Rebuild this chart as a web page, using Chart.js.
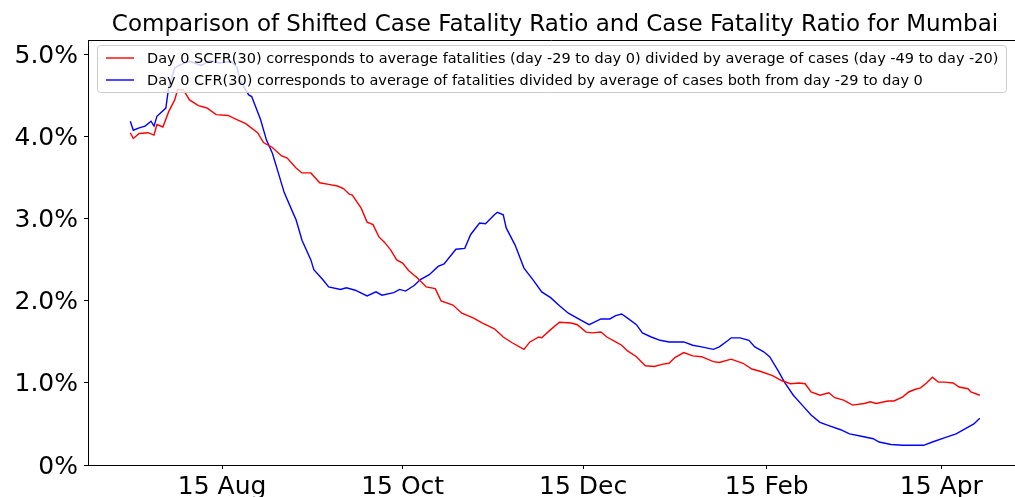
<!DOCTYPE html>
<html>
<head>
<meta charset="utf-8">
<script src="https://cdn.jsdelivr.net/npm/chart.js@4.4.1/dist/chart.umd.min.js"></script>
<style>
  html, body { margin: 0; padding: 0; background: #fff; }
</style>
</head>
<body>
<canvas id="chart" width="1015" height="497"></canvas>
<script>
// days counted from 15 Jul 2020
const titleText = 'Comparison of Shifted Case Fatality Ratio and Case Fatality Ratio for Mumbai'
const scfrLabel = 'Day 0 SCFR(30) corresponds to average fatalities (day -29 to day 0) divided by average of cases (day -49 to day -20)'
const cfrLabel = 'Day 0 CFR(30) corresponds to average of fatalities divided by average of cases both from day -29 to day 0'

const scfrDays = [0, 1, 3, 6, 8, 9, 11, 13, 15, 16, 18, 20, 23, 25, 26, 29, 33, 36, 39, 43, 45, 48, 51, 53, 56, 58, 61, 64, 67, 70, 72, 74, 75, 78, 80, 82, 84, 86, 88, 90, 92, 94, 97, 100, 103, 105, 109, 112, 116, 119, 123, 126, 129, 133, 135, 138, 139, 142, 145, 149, 151, 154, 156, 159, 161, 164, 166, 168, 171, 174, 177, 180, 182, 184, 187, 190, 193, 197, 199, 203, 207, 210, 213, 217, 220, 223, 226, 228, 230, 233, 236, 238, 241, 244, 248, 250, 252, 256, 258, 261, 263, 265, 267, 269, 271, 273, 275, 278, 280, 283, 284, 287]
const scfrValues = [4.05, 3.98, 4.04, 4.05, 4.02, 4.15, 4.12, 4.31, 4.45, 4.58, 4.57, 4.45, 4.38, 4.36, 4.35, 4.27, 4.26, 4.21, 4.16, 4.05, 3.93, 3.87, 3.77, 3.74, 3.62, 3.56, 3.56, 3.44, 3.42, 3.40, 3.37, 3.30, 3.29, 3.13, 2.96, 2.93, 2.78, 2.71, 2.62, 2.50, 2.46, 2.37, 2.28, 2.17, 2.15, 2.00, 1.95, 1.85, 1.79, 1.73, 1.66, 1.56, 1.49, 1.41, 1.50, 1.56, 1.55, 1.65, 1.74, 1.73, 1.71, 1.62, 1.61, 1.62, 1.56, 1.50, 1.46, 1.39, 1.32, 1.21, 1.20, 1.23, 1.24, 1.31, 1.37, 1.33, 1.32, 1.26, 1.25, 1.29, 1.24, 1.17, 1.14, 1.09, 1.03, 0.99, 1.00, 0.99, 0.89, 0.85, 0.88, 0.82, 0.79, 0.73, 0.75, 0.77, 0.75, 0.78, 0.78, 0.83, 0.89, 0.92, 0.94, 1.00, 1.07, 1.01, 1.01, 1.00, 0.95, 0.93, 0.89, 0.85]

const cfrDays = [0, 1, 3, 5, 7, 8, 9, 12, 13, 15, 17, 20, 24, 27, 30, 34, 36, 37, 40, 41, 44, 46, 48, 50, 52, 55, 56, 58, 61, 62, 65, 67, 71, 73, 76, 80, 83, 85, 89, 91, 93, 96, 98, 101, 104, 106, 110, 113, 115, 118, 120, 123, 124, 126, 127, 130, 133, 136, 139, 142, 145, 148, 151, 155, 159, 162, 164, 166, 168, 171, 173, 176, 179, 182, 187, 190, 193, 197, 199, 202, 203, 206, 209, 211, 214, 216, 219, 221, 224, 227, 230, 233, 236, 240, 243, 247, 251, 253, 257, 261, 264, 268, 271, 275, 279, 282, 285, 287]
const cfrValues = [4.19, 4.08, 4.11, 4.13, 4.19, 4.13, 4.25, 4.35, 4.61, 4.84, 4.88, 4.92, 4.87, 4.93, 4.90, 4.92, 4.85, 4.70, 4.51, 4.49, 4.21, 3.96, 3.80, 3.56, 3.32, 3.07, 2.99, 2.74, 2.50, 2.38, 2.26, 2.17, 2.14, 2.16, 2.13, 2.06, 2.11, 2.07, 2.10, 2.14, 2.12, 2.19, 2.26, 2.32, 2.42, 2.45, 2.63, 2.64, 2.81, 2.95, 2.94, 3.05, 3.08, 3.05, 2.89, 2.68, 2.40, 2.26, 2.11, 2.04, 1.94, 1.85, 1.79, 1.71, 1.78, 1.78, 1.82, 1.84, 1.79, 1.71, 1.61, 1.56, 1.52, 1.50, 1.50, 1.46, 1.44, 1.41, 1.44, 1.52, 1.55, 1.55, 1.52, 1.44, 1.38, 1.32, 1.14, 1.01, 0.85, 0.73, 0.61, 0.52, 0.48, 0.43, 0.38, 0.35, 0.32, 0.28, 0.25, 0.24, 0.24, 0.24, 0.28, 0.33, 0.38, 0.44, 0.50, 0.57]

const xTickDays = [31, 92, 153, 215, 274]
const xTickLabels = ['15 Aug', '15 Oct', '15 Dec', '15 Feb', '15 Apr']
const yTicks = [0, 1, 2, 3, 4, 5]

const FONT = "'DejaVu Sans', sans-serif"

function toPoints (days, values) {
  return days.map((d, i) => ({ x: d, y: values[i] }))
}

// top spine, title and the matplotlib-like legend box
const decorations = {
  id: 'decorations',
  afterDatasetsDraw (chart) {
    const { ctx, chartArea: a } = chart
    ctx.save()
    ctx.strokeStyle = '#000'
    ctx.lineWidth = 1
    ctx.beginPath()
    ctx.moveTo(a.left, a.top + 0.5)
    ctx.lineTo(a.right, a.top + 0.5)
    ctx.stroke()

    ctx.fillStyle = '#000'
    ctx.font = '23px ' + FONT
    ctx.textAlign = 'center'
    ctx.textBaseline = 'alphabetic'
    ctx.fillText(titleText, 555, 31)

    ctx.font = '14.5px ' + FONT
    const textX = 147
    const w = Math.max(ctx.measureText(scfrLabel).width, ctx.measureText(cfrLabel).width)
    const bx = 97.5, by = 45.5, bw = textX + w + 8 - bx, bh = 47
    ctx.fillStyle = 'rgba(255,255,255,0.8)'
    ctx.strokeStyle = '#cccccc'
    ctx.beginPath()
    ctx.roundRect(bx, by, bw, bh, 3)
    ctx.fill()
    ctx.stroke()

    const rows = [[scfrLabel, '#ff0000', 58], [cfrLabel, '#0000ff', 80]]
    ctx.textAlign = 'left'
    ctx.textBaseline = 'middle'
    rows.forEach(([label, color, y]) => {
      ctx.strokeStyle = color
      ctx.lineWidth = 1.4
      ctx.beginPath()
      ctx.moveTo(106, y)
      ctx.lineTo(134, y)
      ctx.stroke()
      ctx.fillStyle = '#000'
      ctx.fillText(label, textX, y + 1)
    })
    ctx.restore()
  }
}

const chart = new Chart(document.getElementById('chart'), {
  type: 'line',
  data: {
    datasets: [
      { label: scfrLabel, data: toPoints(scfrDays, scfrValues), borderColor: '#ff0000', borderWidth: 1.4, pointRadius: 0, fill: false, tension: 0 },
      { label: cfrLabel, data: toPoints(cfrDays, cfrValues), borderColor: '#0000ff', borderWidth: 1.4, pointRadius: 0, fill: false, tension: 0 }
    ]
  },
  options: {
    responsive: false,
    animation: false,
    layout: { padding: { top: 40, left: 0, right: 0, bottom: 0 } },
    plugins: { legend: { display: false }, title: { display: false }, tooltip: { enabled: false } },
    scales: {
      x: {
        type: 'linear',
        min: -14.3,
        max: 298.9,
        afterBuildTicks: s => { s.ticks = xTickDays.map(v => ({ value: v })) },
        afterFit: s => { s.height = 32 },
        ticks: {
          autoSkip: false,
          maxRotation: 0,
          padding: 3,
          color: '#000',
          font: { family: FONT, size: 25 },
          callback: (v, i) => xTickLabels[i]
        },
        grid: { drawOnChartArea: false, drawTicks: true, tickLength: 4, color: '#000' },
        border: { display: true, color: '#000', width: 1 }
      },
      y: {
        min: 0,
        max: 5.18,
        afterBuildTicks: s => { s.ticks = yTicks.map(v => ({ value: v })) },
        afterFit: s => { s.width = 88 },
        ticks: {
          padding: 6,
          labelOffset: 2,
          color: '#000',
          font: { family: FONT, size: 25 },
          callback: v => v === 0 ? '0%' : v.toFixed(1) + '%'
        },
        grid: { drawOnChartArea: false, drawTicks: true, tickLength: 4, color: '#000' },
        border: { display: true, color: '#000', width: 1 }
      }
    }
  },
  plugins: [decorations]
})
</script>
</body>
</html>
